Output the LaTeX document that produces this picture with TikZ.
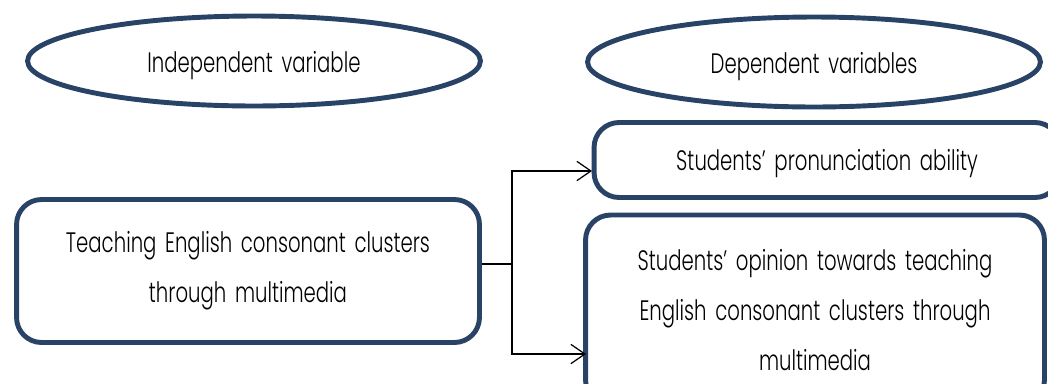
\documentclass[tikz,border=0pt]{standalone}
\usepackage{fontspec}
\setmainfont{Poppins}[UprightFont=* Light, FakeStretch=0.7, WordSpace=1.6]
\usetikzlibrary{shapes.geometric,arrows.meta}
\definecolor{varblue}{RGB}{41,67,102}
\tikzset{
	varoval/.style={ellipse,draw=varblue,line width=2.8pt,minimum width=9.06cm,minimum height=1.8cm,text height=0.62cm},
	varbox/.style={rectangle,rounded corners=0.5cm,draw=varblue,line width=2.8pt,align=center},
	link/.style={line width=0.7pt},
	linkarrow/.style={link,-{Straight Barb[length=8pt,width=11pt]}}
}
\begin{document}
\begin{tikzpicture}[x=0.02cm,y=-0.02cm,font=\fontsize{16}{28.4}\selectfont]
		\clip (0,0) rectangle (1048,383);
		\node[varoval] (indep) at (254,61) {Independent variable};
		\node[varoval] (dep) at (814,62) {Dependent variables};
		
		\node[varbox,minimum width=9.26cm,minimum height=2.86cm] (teach) at (248,271) {Teaching English consonant clusters\\through multimedia};
		\node[varbox,minimum width=9.32cm,minimum height=1.5cm,text height=0.56cm] (ability) at (827,160) {Students’ pronunciation ability};
		\node[varbox,minimum width=9.18cm,minimum height=3.8cm] (opinion) at (815,310) {Students’ opinion towards teaching\\English consonant clusters through\\multimedia};
		
		\coordinate (fork) at (512,264);
		\coordinate (toability) at (592,171);
		\coordinate (toopinion) at (586,354);
		\draw[link] (teach.east |- fork) -- (fork);
		\draw[linkarrow] (fork) |- (toability);
		\draw[linkarrow] (fork) |- (toopinion);
\end{tikzpicture}
\end{document}
